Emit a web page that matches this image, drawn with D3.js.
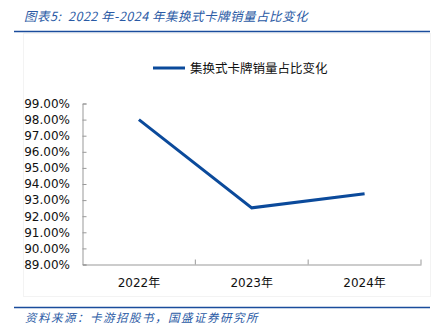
<!DOCTYPE html>
<html><head><meta charset="utf-8">
<script src="https://cdn.jsdelivr.net/npm/d3@7"></script>
<style>body{margin:0;background:#fff}svg{display:block}</style>
</head><body><div id="c"></div>
<script>
const categories = ["2022年","2023年","2024年"];
const values = [98.00, 92.52, 93.40];
const yTicks = [89,90,91,92,93,94,95,96,97,98,99];
const seriesName = "集换式卡牌销量占比变化";
const title = "图表5:  2022 年-2024 年集换式卡牌销量占比变化";
const source = "资料来源：卡游招股书，国盛证券研究所";

const W=438,H=328;
const svg=d3.select("#c").append("svg").attr("width",W).attr("height",H);
const blue="#1a4c9c";
const m={l:82.5,r:421,t:103.5,b:264.5};

// faint chart area
svg.append("rect").attr("x",23.5).attr("y",33.5).attr("width",407).attr("height",263)
  .attr("fill","none").attr("stroke","#f3f3f3");

svg.append("text").attr("x",24).attr("y",21).text(title)
  .attr("font-family","'Noto Sans CJK SC',sans-serif").attr("font-size",12.5)
  .attr("letter-spacing",0.5).attr("xml:space","preserve").style("white-space","pre")
  .attr("font-style","italic").attr("fill","#2a5aa5");
svg.append("line").attr("x1",14).attr("x2",430).attr("y1",31.5).attr("y2",31.5)
  .attr("stroke",blue).attr("stroke-width",1.6);
svg.append("line").attr("x1",14).attr("x2",430).attr("y1",307.5).attr("y2",307.5)
  .attr("stroke",blue).attr("stroke-width",1.6);
svg.append("text").attr("x",25).attr("y",322).text(source)
  .attr("font-family","'Noto Sans CJK SC',sans-serif").attr("font-size",11.5)
  .attr("letter-spacing",1.5)
  .attr("font-style","italic").attr("fill","#2a5aa5");

const x=d3.scaleBand().domain(categories).range([m.l,m.r]);
const y=d3.scaleLinear().domain([89,99]).range([m.b,m.t]);

const ya=svg.append("g").attr("transform",`translate(${m.l},0)`)
  .call(d3.axisRight(y).tickValues(yTicks).tickSize(4).tickFormat(""));
ya.selectAll("path,line").attr("stroke","#999");
svg.append("g").selectAll("text").data(yTicks).join("text")
  .attr("x",70).attr("y",d=>y(d)).attr("dy","0.36em").attr("text-anchor","end")
  .attr("font-family","'DejaVu Sans',sans-serif").attr("font-size",12).attr("fill","#111")
  .text(d=>d.toFixed(2)+"%");

const xa=svg.append("g").attr("transform",`translate(0,${m.b})`)
  .call(d3.axisBottom(x).tickSize(0).tickFormat(""));
xa.select("path").attr("stroke","#999");
svg.append("g").selectAll("line").data(categories).join("line")
  .attr("x1",d=>x(d)+x.bandwidth()).attr("x2",d=>x(d)+x.bandwidth())
  .attr("y1",m.b).attr("y2",m.b-5).attr("stroke","#999");
svg.append("g").selectAll("text").data(categories).join("text")
  .attr("x",d=>x(d)+x.bandwidth()/2).attr("y",287).attr("text-anchor","middle")
  .attr("font-family","'DejaVu Sans','Noto Sans CJK SC',sans-serif").attr("font-size",12).attr("fill","#111")
  .text(d=>d);

const line=d3.line().x((d,i)=>x(categories[i])+x.bandwidth()/2).y(d=>y(d));
svg.append("path").datum(values).attr("d",line).attr("fill","none")
  .attr("stroke","#0b4a9b").attr("stroke-width",3);

// legend
svg.append("line").attr("x1",153).attr("x2",185).attr("y1",68).attr("y2",68)
  .attr("stroke","#0b4a9b").attr("stroke-width",3);
svg.append("text").attr("x",190).attr("y",72.5).text(seriesName)
  .attr("font-family","'Noto Sans CJK SC',sans-serif").attr("font-size",12.5).attr("fill","#111");
</script></body></html>
